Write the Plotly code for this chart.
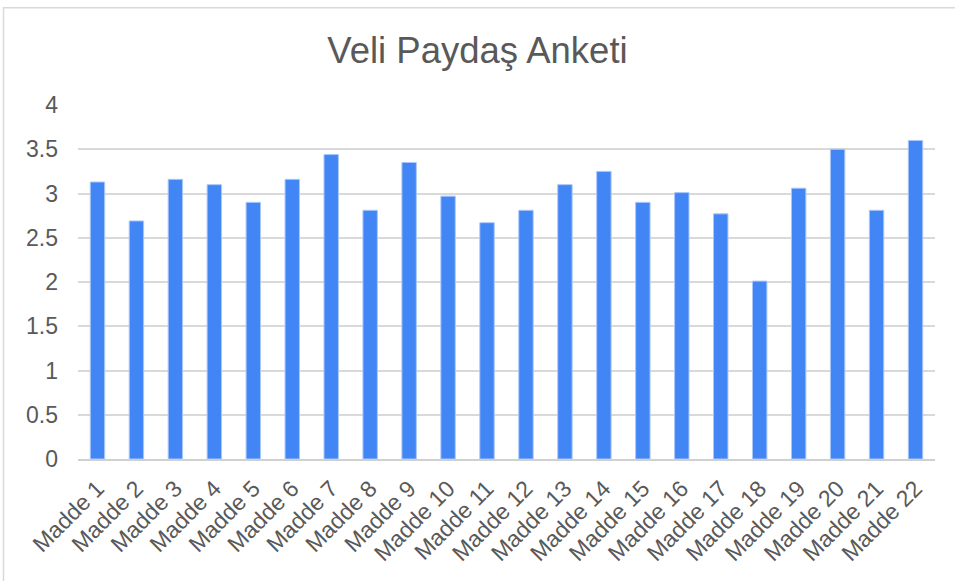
import plotly.graph_objects as go

categories = [f"Madde {i}" for i in range(1, 23)]
values = [3.13, 2.69, 3.16, 3.10, 2.90, 3.16, 3.44, 2.81, 3.35, 2.97, 2.67,
          2.81, 3.10, 3.25, 2.90, 3.01, 2.77, 2.01, 3.06, 3.50, 2.81, 3.60]
y_ticks = [0, 0.5, 1, 1.5, 2, 2.5, 3, 3.5, 4]
y_tick_labels = ["0", "0.5", "1", "1.5", "2", "2.5", "3", "3.5", "4"]

PW, PH = 857, 354.5  # plot area size in px (for frame placement)

fig = go.Figure(go.Bar(
    x=categories, y=values,
    marker=dict(color="#4285F4", line=dict(color="#A9C7FA", width=1)),
))

fig.update_layout(
    width=955, height=581,
    margin=dict(l=78, r=20, t=104.5, b=122),
    paper_bgcolor="white", plot_bgcolor="white",
    title=dict(text="Veli Paydaş Anketi", x=0.5, xanchor="center", y=0.913, yanchor="middle",
               font=dict(family="Liberation Sans, Arial", size=36.5, color="#595959")),
    bargap=0.63,
    showlegend=False,
    font=dict(family="Liberation Sans, Arial", color="#595959"),
    shapes=[dict(type="rect", xref="paper", yref="paper",
                 x0=-(78 - 3.5) / PW, x1=1 + 40 / PW,
                 y0=-(122 + 40) / PH, y1=1 + (104.5 - 7) / PH,
                 line=dict(color="#d9d9d9", width=1.5), fillcolor="rgba(0,0,0,0)", layer="below")],
)
fig.update_xaxes(tickangle=-45, tickfont=dict(size=23, color="#595959"), showgrid=False,
                 showline=True, linecolor="#d0d0d0", linewidth=2, ticks="", automargin=False,
                 ticklabelstandoff=5)
fig.update_yaxes(range=[0, 4], tickvals=y_ticks, ticktext=y_tick_labels,
                 tickfont=dict(size=23, color="#595959"), showgrid=True, gridcolor="#d9d9d9",
                 gridwidth=1.5, zeroline=False, ticks="", ticklabelstandoff=19, automargin=False)

fig.write_html("out.html", config={"displayModeBar": False},
               post_script="document.body.style.margin='0px';")
